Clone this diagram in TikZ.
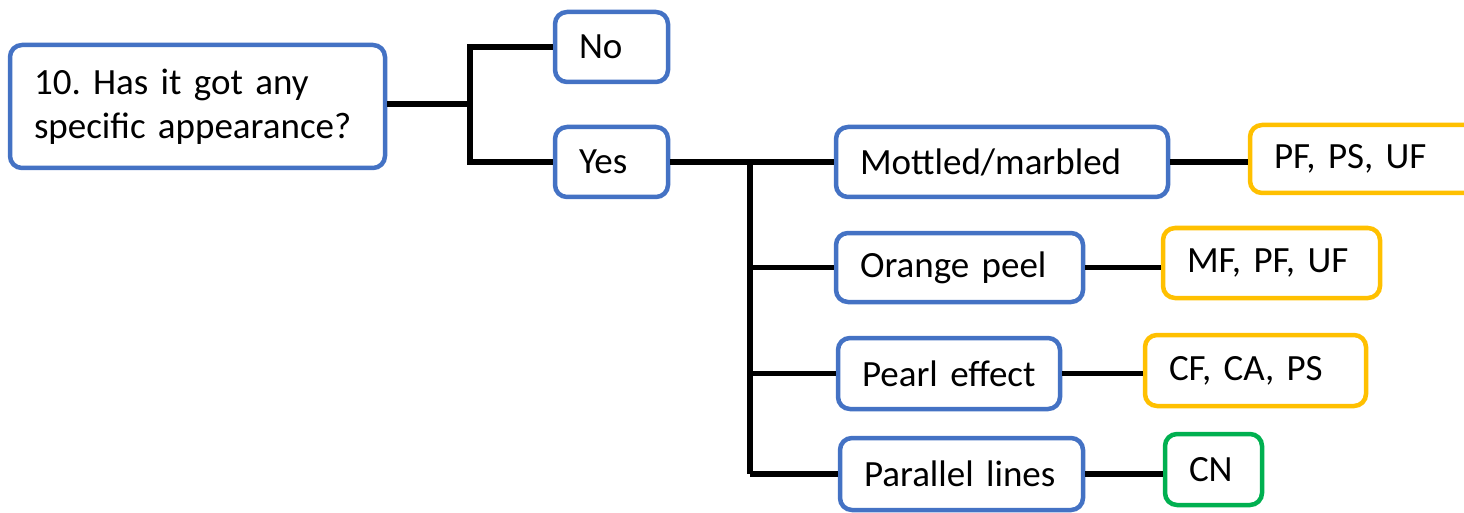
\documentclass[tikz,border=0pt]{standalone}
\usepackage{fontspec}
\setmainfont{Carlito}[WordSpace=0.7]
\frenchspacing
\definecolor{bblue}{HTML}{4472C4}
\definecolor{borange}{HTML}{FFC000}
\definecolor{bgreen}{HTML}{00B050}
\begin{document}
\begin{tikzpicture}[x=1pt,y=-1pt,
  box/.style={draw=bblue, line width=4.5pt, rounded corners=12pt, fill=white,
    inner xsep=24pt, inner ysep=0pt, align=left,
    font=\fontsize{37}{44}\selectfont},
  obox/.style={box, draw=borange},
  gbox/.style={box, draw=bgreen},
  conn/.style={line width=5.5pt, black}]
\useasboundingbox (0,0) rectangle (1464,513);
\node[box, minimum width=375pt, minimum height=123pt, text width=327pt] (Q) at (197.5,106.5) {10. Has it got any\\specific appearance?};
\node[box, minimum width=113pt, minimum height=70pt, text width=65pt] (No) at (611.5,47) {No};
\node[box, minimum width=113pt, minimum height=70pt, text width=65pt] (Yes) at (611.5,162) {Yes};
\node[box, minimum width=332pt, minimum height=70pt, text width=284pt] (Mot) at (1002,162) {Mottled/marbled};
\node[box, minimum width=247pt, minimum height=69pt, text width=199pt] (Ora) at (959.5,267.5) {Orange peel};
\node[box, minimum width=222pt, minimum height=71pt, text width=174pt] (Pea) at (949,373.5) {Pearl effect};
\node[box, minimum width=243pt, minimum height=72pt, text width=195pt] (Par) at (961.5,474) {Parallel lines};
\node[obox, minimum width=230pt, minimum height=68pt, text width=182pt] (R1) at (1365,159) {PF, PS, UF};
\node[obox, minimum width=217pt, minimum height=70pt, text width=169pt] (R2) at (1271.5,263) {MF, PF, UF};
\node[obox, minimum width=221pt, minimum height=71pt, text width=173pt] (R3) at (1255.5,370.5) {CF, CA, PS};
\node[gbox, minimum width=97pt, minimum height=71pt, text width=49pt] (R4) at (1213.5,469.5) {CN};
% connectors
\coordinate (j1) at (470,104);
\draw[conn] (Q.east |- j1) -- (j1);
\draw[conn] (No.west) -| (j1) |- (Yes.west);
\coordinate (j2) at (750,162);
\draw[conn] (Yes.east) -- (Mot.west);
\draw[conn] (j2 |- Mot.west) -- (j2 |- Par.west);
\draw[conn] (j2 |- Ora.west) -- (Ora.west);
\draw[conn] (j2 |- Pea.west) -- (Pea.west);
\draw[conn] (j2 |- Par.west) -- (Par.west);
\draw[conn] (Mot.east) -- (Mot.east -| R1.west);
\draw[conn] (Ora.east) -- (Ora.east -| R2.west);
\draw[conn] (Pea.east) -- (Pea.east -| R3.west);
\draw[conn] (Par.east) -- (Par.east -| R4.west);
\end{tikzpicture}
\end{document}
